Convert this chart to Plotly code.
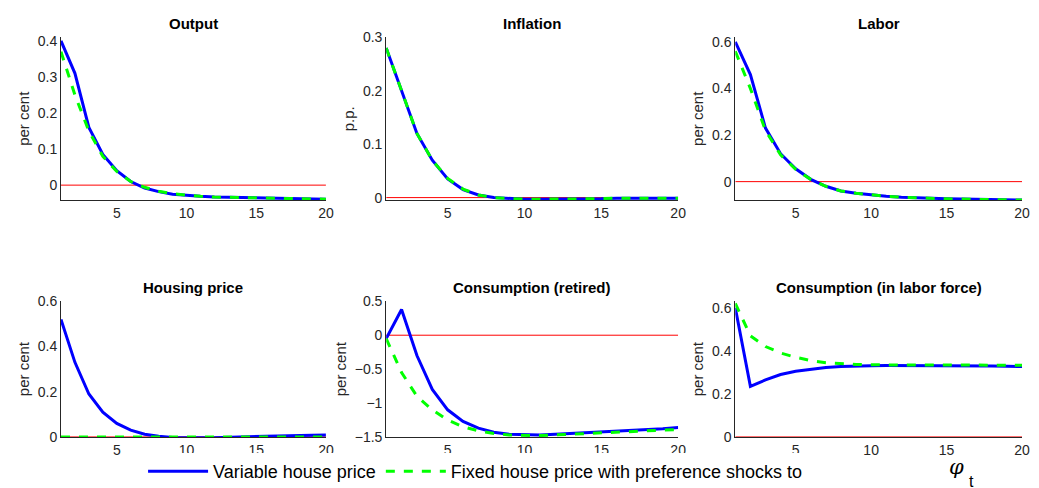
import plotly.graph_objects as go

t = list(range(1, 21))
titles = ["Output", "Inflation", "Labor", "Housing price", "Consumption (retired)", "Consumption (in labor force)"]
ylabels = ["per cent", "p.p.", "per cent", "per cent", "per cent", "per cent"]
output_var = [0.40,0.31,0.16,0.085,0.04,0.01,-0.008,-0.018,-0.025,-0.029,-0.031,-0.033,-0.034,-0.035,-0.036,-0.037,-0.037,-0.038,-0.038,-0.039]
output_fix = [0.37,0.25,0.15,0.08,0.038,0.01,-0.006,-0.017,-0.024,-0.028,-0.031,-0.033,-0.034,-0.035,-0.036,-0.037,-0.037,-0.038,-0.038,-0.039]
infl_var = [0.28,0.20,0.12,0.07,0.035,0.015,0.005,0.0,-0.002,-0.003,-0.003,-0.003,-0.002,-0.002,-0.002,-0.001,-0.001,-0.001,-0.001,-0.001]
infl_fix = [0.28,0.20,0.12,0.07,0.036,0.016,0.005,0.0,-0.002,-0.003,-0.003,-0.003,-0.002,-0.002,-0.002,-0.001,-0.001,-0.001,-0.001,-0.001]
labor_var = [0.60,0.46,0.23,0.12,0.055,0.01,-0.02,-0.04,-0.05,-0.058,-0.063,-0.067,-0.07,-0.072,-0.074,-0.075,-0.076,-0.077,-0.078,-0.079]
labor_fix = [0.56,0.40,0.22,0.115,0.053,0.01,-0.02,-0.04,-0.05,-0.058,-0.063,-0.067,-0.07,-0.072,-0.074,-0.075,-0.076,-0.077,-0.078,-0.079]
house_var = [0.52,0.33,0.19,0.11,0.06,0.03,0.012,0.003,-0.002,-0.004,-0.004,-0.003,-0.001,0.001,0.003,0.005,0.006,0.007,0.008,0.009]
house_fix = [0.0]*20
cret_var = [-0.05,0.38,-0.3,-0.8,-1.1,-1.27,-1.37,-1.43,-1.46,-1.47,-1.47,-1.46,-1.45,-1.44,-1.43,-1.42,-1.41,-1.39,-1.38,-1.36]
cret_fix = [-0.05,-0.55,-0.9,-1.1,-1.25,-1.35,-1.41,-1.45,-1.47,-1.48,-1.48,-1.47,-1.46,-1.45,-1.44,-1.43,-1.42,-1.41,-1.40,-1.39]
clab_var = [0.6,0.235,0.265,0.29,0.305,0.315,0.322,0.327,0.33,0.331,0.332,0.332,0.332,0.331,0.331,0.330,0.330,0.329,0.328,0.327]
clab_fix = [0.62,0.47,0.42,0.39,0.37,0.355,0.345,0.34,0.337,0.335,0.334,0.334,0.334,0.334,0.334,0.334,0.334,0.333,0.333,0.333]
var_series = [output_var, infl_var, labor_var, house_var, cret_var, clab_var]
fix_series = [output_fix, infl_fix, labor_fix, house_fix, cret_fix, clab_fix]
yranges = [[-0.042,0.41],[-0.005,0.3],[-0.08,0.62],[0,0.6],[-1.5,0.5],[0,0.63]]
ytickvals = [[0,0.1,0.2,0.3,0.4],[0,0.1,0.2,0.3],[0,0.2,0.4,0.6],[0,0.2,0.4,0.6],[-1.5,-1,-0.5,0,0.5],[0,0.2,0.4,0.6]]

xdoms = [[0.051,0.306],[0.364,0.645],[0.700,0.976]]
ydoms = [[0.606,0.940],[0.121,0.399]]

fig = go.Figure()
ann = []
for i in range(6):
    r, c = divmod(i, 3)
    xa = "x" if i == 0 else f"x{i+1}"
    ya = "y" if i == 0 else f"y{i+1}"
    fig.add_trace(go.Scatter(x=t, y=[0]*20, mode="lines", line=dict(color="red", width=1), xaxis=xa, yaxis=ya, showlegend=False, cliponaxis=False))
    fig.add_trace(go.Scatter(x=t, y=var_series[i], mode="lines", line=dict(color="#0000ff", width=3), xaxis=xa, yaxis=ya,
                             name="Variable house price", showlegend=(i == 0)))
    fig.add_trace(go.Scatter(x=t, y=fix_series[i], mode="lines", line=dict(color="#00ff00", width=3, dash="dash"), xaxis=xa, yaxis=ya,
                             name="Fixed house price with preference shocks to", showlegend=(i == 0)))
    ax = dict(domain=xdoms[c], range=[1,20], tickvals=[5,10,15,20], showline=True, linecolor="#262626", ticks="",
              showgrid=False, zeroline=False, anchor=ya, automargin=False,
              tickfont=dict(family="Liberation Sans", size=14, color="#262626"))
    ay = dict(domain=ydoms[r], range=yranges[i], tickvals=ytickvals[i], showline=True, linecolor="#262626", ticks="",
              showgrid=False, zeroline=False, anchor=xa, automargin=False,
              title=dict(text=ylabels[i], font=dict(family="Liberation Sans", size=15, color="#262626"), standoff=4),
              tickfont=dict(family="Liberation Sans", size=14, color="#262626"))
    fig.layout["xaxis" if i == 0 else f"xaxis{i+1}"] = ax
    fig.layout["yaxis" if i == 0 else f"yaxis{i+1}"] = ay
    ann.append(dict(text=f"<b>{titles[i]}</b>", x=(xdoms[c][0]+xdoms[c][1])/2, y=ydoms[r][1], xref="paper", yref="paper",
                    yanchor="bottom", xanchor="center", showarrow=False, yshift=3,
                    font=dict(family="Liberation Sans", size=15, color="black")))
ann.append(dict(text="<i>φ</i>", x=0.922, y=0.03, xref="paper", yref="paper", yanchor="bottom", showarrow=False,
                font=dict(family="DejaVu Serif", size=21, color="black")))
ann.append(dict(text="t", x=0.932, y=0.008, xref="paper", yref="paper", yanchor="bottom", showarrow=False,
                font=dict(family="Liberation Sans", size=16, color="black")))
fig.update_layout(width=1039, height=488, margin=dict(l=0, r=0, t=0, b=0), plot_bgcolor="white", paper_bgcolor="white",
                  annotations=ann,
                  legend=dict(orientation="h", x=0.130, y=0.012, xanchor="left", yanchor="bottom", itemwidth=60,
                              font=dict(family="Liberation Sans", size=18, color="black"), tracegroupgap=0))
fig.write_html("out.html")
